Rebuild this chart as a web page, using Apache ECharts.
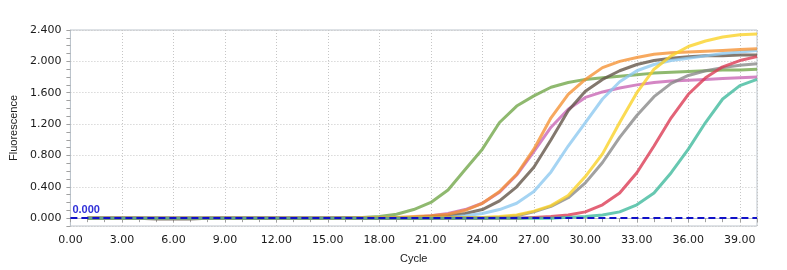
<!DOCTYPE html>
<html>
<head>
<meta charset="utf-8">
<script src="https://cdn.jsdelivr.net/npm/echarts@6/dist/echarts.min.js"></script>
<style>
html,body{margin:0;padding:0;background:#fff;}
#c{width:787px;height:270px;}
</style>
</head>
<body>
<div id="c"></div>
<script>
// cycles 1..40
const cycles = Array.from({length: 40}, (_, i) => i + 1);
const z = n => new Array(n).fill(0);

const green  = [...z(15), 0.005, 0.01, 0.02, 0.05, 0.11, 0.20, 0.36, 0.62, 0.88, 1.22, 1.43, 1.56, 1.67, 1.73, 1.77, 1.79, 1.81, 1.83, 1.85, 1.86, 1.87, 1.88, 1.89, 1.89, 1.90];
const orange = [...z(18), 0.01, 0.02, 0.03, 0.05, 0.10, 0.19, 0.34, 0.56, 0.88, 1.28, 1.58, 1.77, 1.92, 2.00, 2.05, 2.09, 2.11, 2.12, 2.13, 2.14, 2.15, 2.16];
const pink   = [...z(19), 0.01, 0.03, 0.06, 0.11, 0.19, 0.33, 0.55, 0.85, 1.16, 1.39, 1.54, 1.61, 1.66, 1.70, 1.73, 1.75, 1.76, 1.77, 1.78, 1.79, 1.80];
const brown  = [0, 0, 0, 0, -0.01, -0.01, -0.01, ...z(12), 0.01, 0.02, 0.03, 0.06, 0.11, 0.22, 0.40, 0.65, 1.00, 1.37, 1.62, 1.77, 1.88, 1.96, 2.01, 2.04, 2.06, 2.07, 2.07, 2.08, 2.08];
const blue   = [...z(21), 0.01, 0.03, 0.06, 0.11, 0.19, 0.34, 0.59, 0.92, 1.22, 1.52, 1.74, 1.88, 1.96, 2.01, 2.04, 2.07, 2.10, 2.12, 2.14];
const yellow = [...z(16), 0.005, 0.01, 0.01, 0.01, 0.01, 0.01, 0.01, 0.01, 0.02, 0.04, 0.09, 0.16, 0.29, 0.53, 0.82, 1.22, 1.60, 1.90, 2.07, 2.19, 2.26, 2.31, 2.34, 2.35];
const gray   = [...z(24), 0.01, 0.03, 0.08, 0.15, 0.26, 0.45, 0.71, 1.03, 1.31, 1.55, 1.72, 1.82, 1.88, 1.92, 1.95, 1.97];
const red    = [...z(26), 0.01, 0.02, 0.04, 0.08, 0.17, 0.32, 0.58, 0.92, 1.28, 1.58, 1.79, 1.93, 2.01, 2.06];
const teal   = [...z(28), 0.01, 0.02, 0.04, 0.08, 0.17, 0.32, 0.58, 0.88, 1.22, 1.52, 1.69, 1.77];

const threshold = 0;
const xTicks = [0, 3, 6, 9, 12, 15, 18, 21, 24, 27, 30, 33, 36, 39];
const yTicks = [0, 0.4, 0.8, 1.2, 1.6, 2.0, 2.4];

const seriesDefs = [
  {name: 'A', data: green,  color: 'rgba(112,165,70,0.78)'},
  {name: 'B', data: pink,   color: 'rgba(200,100,180,0.78)'},
  {name: 'C', data: brown,  color: 'rgba(100,86,74,0.80)'},
  {name: 'D', data: blue,   color: 'rgba(140,200,240,0.78)'},
  {name: 'E', data: orange, color: 'rgba(245,145,50,0.78)'},
  {name: 'F', data: gray,   color: 'rgba(135,135,135,0.78)'},
  {name: 'G', data: yellow, color: 'rgba(250,210,40,0.80)'},
  {name: 'H', data: red,    color: 'rgba(220,60,85,0.80)'},
  {name: 'I', data: teal,   color: 'rgba(60,185,155,0.78)'}
];

const axisColor = '#bcc4cc';
const gridColor = '#c6c6c6';
const labelFont = {fontFamily: 'DejaVu Sans', fontSize: 11, color: '#1a1a1a'};

const series = seriesDefs.map(s => ({
  type: 'line',
  name: s.name,
  xAxisIndex: 0,
  yAxisIndex: 0,
  showSymbol: false,
  symbol: 'none',
  smooth: false,
  lineStyle: {width: 3, color: s.color},
  itemStyle: {color: s.color},
  data: cycles.map((c, i) => [c, s.data[i]])
}));

series.push({
  type: 'line',
  name: 'threshold',
  xAxisIndex: 0,
  yAxisIndex: 0,
  data: [],
  z: 10,
  markLine: {
    silent: true,
    symbol: 'none',
    animation: false,
    lineStyle: {color: '#1010c8', width: 2, type: [7, 4]},
    label: {
      show: true,
      position: 'insideStartTop',
      formatter: threshold.toFixed(3),
      color: '#3030d8',
      fontFamily: 'Liberation Sans',
      fontSize: 11,
      fontWeight: 'bold',
      distance: [2, 3]
    },
    data: [{yAxis: threshold}]
  }
});

const chart = echarts.init(document.getElementById('c'), null, {renderer: 'canvas'});
chart.setOption({
  animation: false,
  backgroundColor: '#fff',
  grid: {left: 68, right: 30, top: 30, bottom: 44, show: true, borderColor: axisColor, borderWidth: 1, backgroundColor: 'transparent'},
  xAxis: [
    {
      type: 'value', min: 0, max: 40, interval: 3,
      name: 'Cycle', nameLocation: 'middle', nameGap: 27,
      nameTextStyle: {fontFamily: 'Liberation Sans', fontSize: 11, color: '#222'},
      axisLine: {show: true, lineStyle: {color: axisColor}},
      axisTick: {show: false},
      axisLabel: {
        ...labelFont, margin: 9, showMaxLabel: false,
        formatter: v => xTicks.includes(v) ? v.toFixed(2) : ''
      },
      splitLine: {show: true, lineStyle: {color: gridColor, type: [1, 2], width: 1}}
    },
    {
      type: 'value', min: 0, max: 40, interval: 1, position: 'bottom',
      axisLine: {show: false},
      axisTick: {show: true, length: 4, lineStyle: {color: '#a0a0a0'}},
      axisLabel: {show: false},
      splitLine: {show: false}
    }
  ],
  yAxis: [
    {
      type: 'value', min: -0.1, max: 2.4, minInterval: 0.4, maxInterval: 0.4, splitNumber: 6,
      name: 'Fluorescence', nameLocation: 'middle', nameGap: 48, nameRotate: 90,
      nameTextStyle: {fontFamily: 'Liberation Sans', fontSize: 11, color: '#222'},
      axisLine: {show: true, lineStyle: {color: axisColor}},
      axisTick: {show: false},
      axisLabel: {
        ...labelFont, margin: 9, showMinLabel: false,
        formatter: v => yTicks.some(t => Math.abs(t - v) < 1e-6) ? v.toFixed(3) : ''
      },
      splitLine: {show: true, lineStyle: {color: gridColor, type: [1, 2], width: 1}}
    },
    {
      type: 'value', min: -0.1, max: 2.4, interval: 0.1, position: 'left',
      axisLine: {show: false},
      axisTick: {show: true, length: 4, lineStyle: {color: '#a0a0a0'}},
      axisLabel: {show: false},
      splitLine: {show: false}
    }
  ],
  series: series
});
</script>
</body>
</html>
